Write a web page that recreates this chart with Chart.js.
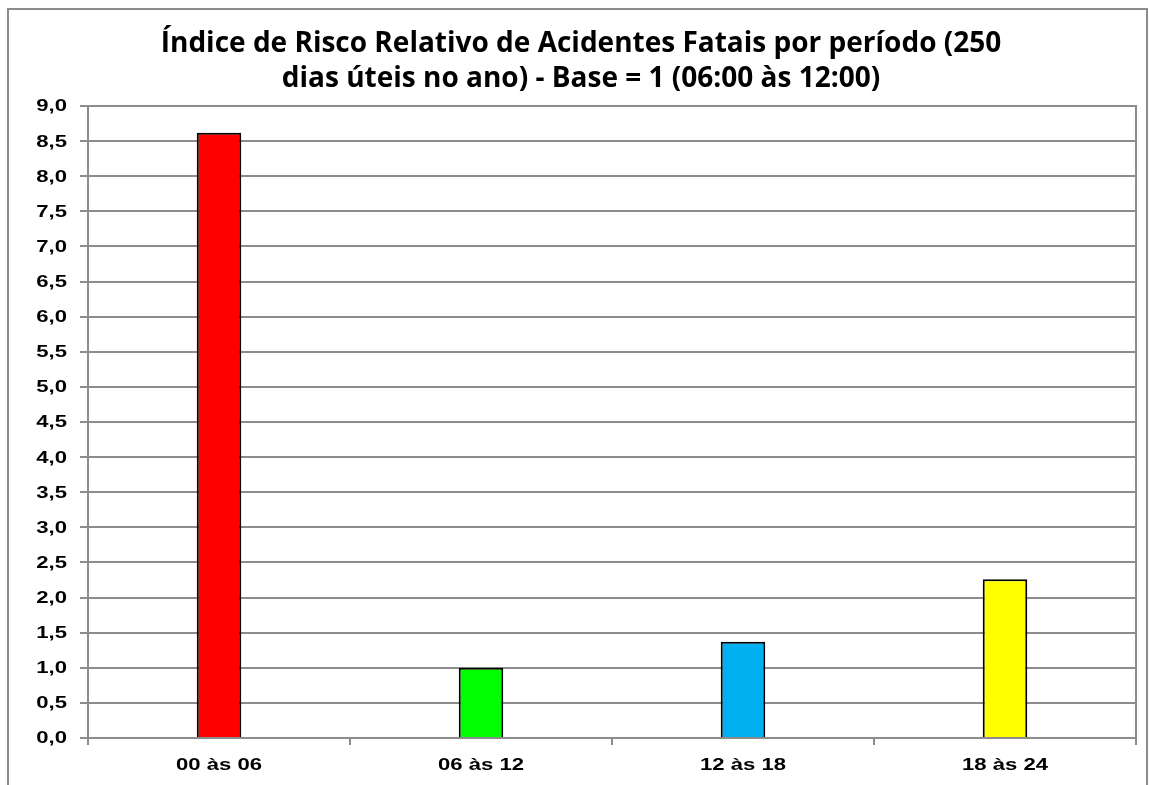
<!DOCTYPE html>
<html>
<head>
<meta charset="utf-8">
<script src="https://cdn.jsdelivr.net/npm/chart.js@4/dist/chart.umd.min.js"></script>
<style>
  html, body { margin: 0; padding: 0; background: #fff; }
  #wrap { width: 1149px; height: 785px; position: relative; }
</style>
</head>
<body>
<div id="wrap"><canvas id="riskChart" width="1149" height="785"></canvas></div>
<script>
const periods = ["00 às 06", "06 às 12", "12 às 18", "18 às 24"];
const riskIndex = [8.62, 1.0, 1.37, 2.26];
const barColors = ["#ff0000", "#00ff00", "#00b0f0", "#ffff00"];
const titleLines = [
  "Índice de Risco Relativo de Acidentes Fatais por período (250",
  "dias úteis no ano) - Base = 1 (06:00 às 12:00)"
];

const fmt = v => v.toFixed(1).replace(".", ",");

// outer frame and plot-area box, like a spreadsheet chart
const frames = {
  id: "frames",
  beforeDraw(chart) {
    const c = chart.ctx;
    c.save();
    c.strokeStyle = "#8c8c8c";
    c.lineWidth = 2;
    c.strokeRect(8, 9, 1139, 800);
    c.restore();
  },
  afterDatasetsDraw(chart) {
    const a = chart.chartArea;
    const c = chart.ctx;
    c.save();
    c.strokeStyle = "#8c8c8c";
    c.lineWidth = 2;
    c.beginPath();
    c.moveTo(a.left, a.top);
    c.lineTo(a.right, a.top);
    c.lineTo(a.right, a.bottom);
    c.stroke();
    c.restore();
  }
};

// wide bold tick labels (horizontally stretched text)
const wideTicks = {
  id: "wideTicks",
  afterDraw(chart) {
    const c = chart.ctx;
    const xs = chart.scales.x, ys = chart.scales.y;
    const sx = 1.38;
    c.save();
    c.fillStyle = "#000";
    c.font = "bold 16px 'Liberation Sans', Arial, sans-serif";
    c.textBaseline = "middle";
    c.textAlign = "right";
    ys.ticks.forEach(t => {
      const y = ys.getPixelForValue(t.value);
      c.save();
      c.translate(ys.right - 21, y + 1);
      c.scale(sx, 1);
      c.fillText(fmt(t.value), 0, 0);
      c.restore();
    });
    c.textAlign = "center";
    periods.forEach((p, i) => {
      const x = xs.getPixelForValue(i);
      c.save();
      c.translate(x, xs.bottom + 21);
      c.scale(sx, 1);
      c.fillText(p, 0, 0);
      c.restore();
    });
    c.restore();
  }
};

new Chart(document.getElementById("riskChart"), {
  type: "bar",
  data: {
    labels: periods,
    datasets: [{
      data: riskIndex,
      backgroundColor: barColors,
      borderColor: "#000",
      borderWidth: 2,
      categoryPercentage: 1,
      barPercentage: 0.17
    }]
  },
  options: {
    responsive: false,
    animation: false,
    layout: { padding: { left: 26, right: 13, top: 27, bottom: 40 } },
    plugins: {
      legend: { display: false },
      tooltip: { enabled: false },
      title: {
        display: true,
        text: titleLines,
        color: "#000",
        font: { family: "'Liberation Sans Narrow', 'Open Sans', sans-serif", size: 28, weight: "bold", lineHeight: 1.25 },
        padding: { top: 0, bottom: 9 }
      }
    },
    scales: {
      x: {
        grid: { drawOnChartArea: false, drawTicks: true, tickLength: 7, offset: true, color: "#8c8c8c", lineWidth: 2 },
        border: { color: "#8c8c8c", width: 2 },
        ticks: { display: false }
      },
      y: {
        min: 0,
        max: 9,
        afterFit: s => { s.width = 62; },
        grid: { color: "#8c8c8c", lineWidth: 2, tickLength: 8 },
        border: { color: "#8c8c8c", width: 2 },
        ticks: { display: false, stepSize: 0.5 }
      }
    }
  },
  plugins: [frames, wideTicks]
});
</script>
</body>
</html>
